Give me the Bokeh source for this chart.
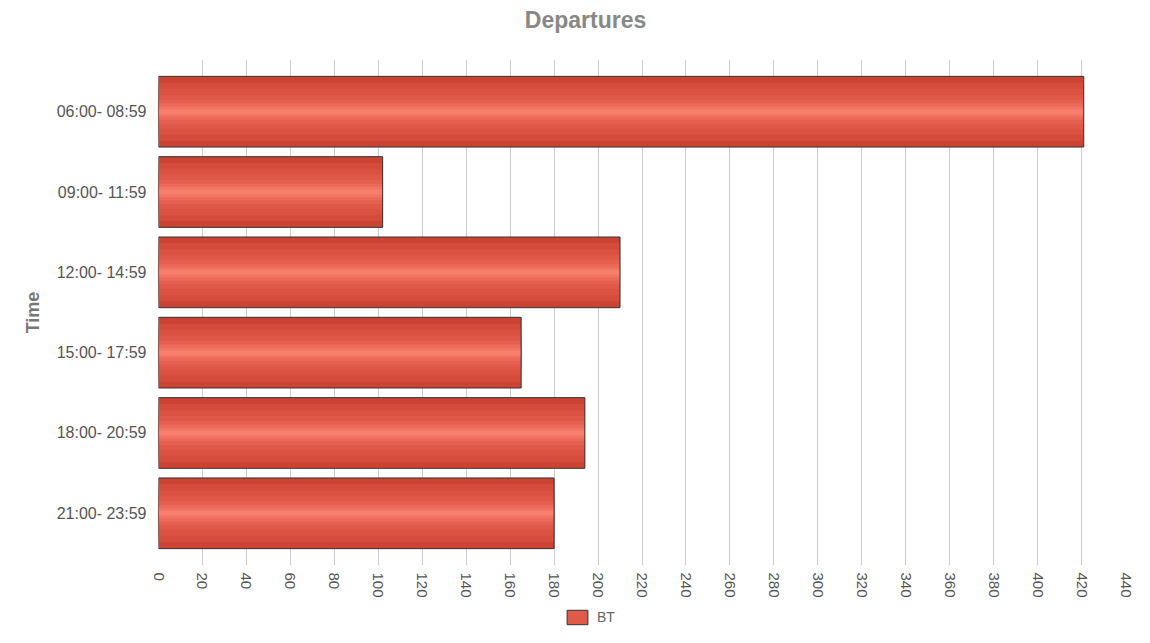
import math
from bokeh.plotting import figure
from bokeh.layouts import column
from bokeh.models import (Range1d, FactorRange, Legend, LegendItem, Label,
                          SingleIntervalTicker)
from bokeh.embed import file_html
from bokeh.resources import INLINE

# ---- data ----
time_slots = ["06:00- 08:59", "09:00- 11:59", "12:00- 14:59",
              "15:00- 17:59", "18:00- 20:59", "21:00- 23:59"]
bt_departures = [421, 102, 210, 165, 194, 180]
series_name = "BT"
chart_title = "Departures"
y_title = "Time"

# ---- style ----
FONT = "Liberation Sans"
W = 1134
layer_fracs = [1.0, 0.82, 0.64, 0.48, 0.34, 0.23, 0.14, 0.07]
layer_colors = ["#cc4333", "#d64c3c", "#db5242", "#e05848", "#e66050",
                "#ec6a5a", "#f27464", "#f87e6e"]
bar_h = 0.88


def strip(height):
    s = figure(width=W, height=height, output_backend="svg", toolbar_location=None,
               x_range=Range1d(0, 1), y_range=Range1d(0, 1),
               min_border_left=158, min_border_right=9,
               min_border_top=0, min_border_bottom=0)
    s.axis.visible = False
    s.grid.grid_line_color = None
    s.outline_line_color = None
    return s


# ---- title strip ----
top = strip(59)
top.add_layout(Label(x=427, y=40, x_units="screen", y_units="screen",
                     text=chart_title, text_align="center",
                     text_baseline="alphabetic", text_font=FONT,
                     text_font_size="23px", text_font_style="bold",
                     text_color="#888888"))

# ---- main chart ----
p = figure(width=W, height=541, output_backend="svg", toolbar_location=None,
           y_range=FactorRange(factors=list(reversed(time_slots)),
                               range_padding=0.15, range_padding_units="absolute"),
           x_range=Range1d(0, 440),
           min_border_left=158, min_border_right=9,
           min_border_top=0, min_border_bottom=34)
p.outline_line_color = None

for f, c in zip(layer_fracs, layer_colors):
    p.hbar(y=time_slots, right=bt_departures, left=0, height=bar_h * f,
           fill_color=c, line_color=None)
p.hbar(y=time_slots, right=bt_departures, left=0, height=bar_h,
       fill_alpha=0, line_color="#333333", line_width=1)

p.xaxis.ticker = SingleIntervalTicker(interval=20)
p.xaxis.axis_line_color = None
p.xaxis.major_tick_line_color = None
p.xaxis.minor_tick_line_color = None
p.xaxis.major_label_orientation = -math.pi / 2
p.xaxis.major_label_text_font = FONT
p.xaxis.major_label_text_font_size = "15px"
p.xaxis.major_label_text_color = "#555555"
p.xaxis.major_label_standoff = 1

p.yaxis.axis_label = y_title
p.yaxis.axis_label_text_font = FONT
p.yaxis.axis_label_text_font_size = "18px"
p.yaxis.axis_label_text_font_style = "bold"
p.yaxis.axis_label_text_color = "#777777"
p.yaxis.axis_label_standoff = 11
p.yaxis.axis_line_color = None
p.yaxis.major_tick_line_color = None
p.yaxis.minor_tick_line_color = None
p.yaxis.major_label_text_font = FONT
p.yaxis.major_label_text_font_size = "16px"
p.yaxis.major_label_text_color = "#555555"
p.yaxis.major_label_standoff = 6

p.xgrid.grid_line_color = "#cccccc"
p.xgrid.grid_line_width = 1
p.ygrid.grid_line_color = None

# ---- legend strip ----
lg = strip(27)
proxy = lg.hbar(y=[0.5], right=[0], left=0, height=0,
                fill_color="#e05a4a", line_color="#333333")
legend = Legend(items=[LegendItem(label=series_name, renderers=[proxy])],
                location=(406, 1), orientation="horizontal",
                glyph_width=26, glyph_height=18, padding=3, margin=0,
                border_line_color=None, background_fill_alpha=0,
                label_text_font=FONT, label_text_font_size="14px",
                label_text_color="#666666", label_standoff=7)
lg.add_layout(legend, "center")

layout = column(top, p, lg, spacing=0)
open("out.html", "w").write(file_html(layout, INLINE))
